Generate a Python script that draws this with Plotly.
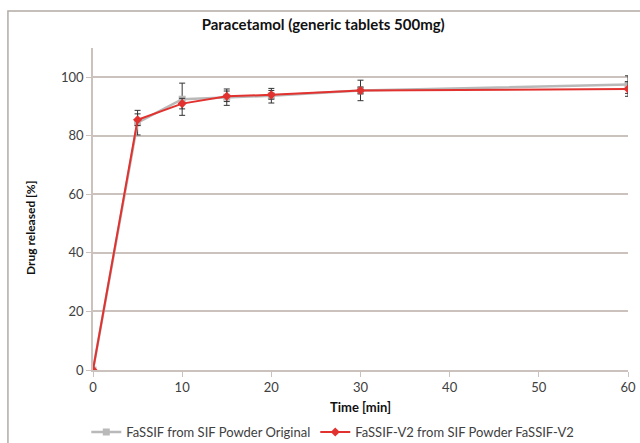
import plotly.graph_objects as go

time_min = [0, 5, 10, 15, 20, 30, 60]
orig_vals = [0, 84.5, 92.5, 93.2, 93.7, 95.5, 97.5]
orig_err = [0, 4.2, 5.5, 2.8, 2.5, 3.5, 3.0]
v2_vals = [0, 85.5, 91.0, 93.5, 94.0, 95.5, 96.0]
v2_err = [0, 2.0, 1.8, 1.8, 1.5, 1.2, 2.5]

FONT = "Lato, 'Open Sans', sans-serif"
grid_c = "#cbc1bd"

fig = go.Figure()
fig.add_trace(go.Scatter(
    x=time_min, y=orig_vals, mode="lines+markers",
    name="FaSSIF from SIF Powder Original",
    line=dict(color="#b9b9b9", width=2.5),
    marker=dict(symbol="square", size=7, color="#b9b9b9"),
    error_y=dict(type="data", array=orig_err, color="#333333", thickness=1, width=3),
))
fig.add_trace(go.Scatter(
    x=time_min, y=v2_vals, mode="lines+markers",
    name="FaSSIF-V2 from SIF Powder FaSSIF-V2",
    line=dict(color="#e2322f", width=2),
    marker=dict(symbol="diamond", size=7, color="#e2322f"),
    error_y=dict(type="data", array=v2_err, color="#333333", thickness=1, width=3),
))

fig.add_shape(type="rect", xref="paper", yref="paper",
              x0=-0.159, x1=1.2, y0=-0.4, y1=1.115,
              line=dict(color="#b2aaa7", width=1.5), layer="below")

fig.add_annotation(text="<b>Time [min]</b>", xref="paper", yref="paper",
                   x=(360 - 93) / 535, y=-(407 - 370) / 322,
                   showarrow=False, xanchor="center", yanchor="middle",
                   font=dict(family=FONT, size=13, color="#111111"))
fig.add_annotation(text="<b>Drug released [%]</b>", xref="paper", yref="paper",
                   x=-(93 - 31) / 535, y=(370 - 228) / 322, textangle=-90,
                   showarrow=False, xanchor="center", yanchor="middle",
                   font=dict(family=FONT, size=12, color="#111111"))

fig.update_layout(
    width=640, height=443,
    margin=dict(l=93, r=12, t=48, b=73, autoexpand=False),
    paper_bgcolor="white", plot_bgcolor="white",
    font=dict(family=FONT, size=13, color="#404040"),
    title=dict(text="<b>Paracetamol (generic tablets 500mg)</b>",
               x=0.505, xref="container", xanchor="center",
               y=(443 - 25) / 443, yref="container", yanchor="middle",
               font=dict(family=FONT, size=15, color="#111111")),
    showlegend=True,
    legend=dict(orientation="h", xref="container", yref="container",
                x=0.52, xanchor="center", y=11 / 443, yanchor="middle",
                font=dict(family=FONT, size=13, color="#404040"),
                itemwidth=30, tracegroupgap=0),
    xaxis=dict(range=[0, 60], dtick=10, tick0=0, automargin=False,
               showgrid=False, zeroline=False,
               showline=True, linecolor=grid_c, linewidth=1.5,
               ticks="outside", ticklen=5, tickcolor=grid_c),
    yaxis=dict(range=[0, 110], dtick=20, tick0=0, automargin=False,
               showgrid=True, gridcolor=grid_c, gridwidth=1.5,
               zeroline=False,
               showline=True, linecolor=grid_c, linewidth=1.5,
               ticks="outside", ticklen=5, tickcolor=grid_c),
)

fig.write_html("out.html")
